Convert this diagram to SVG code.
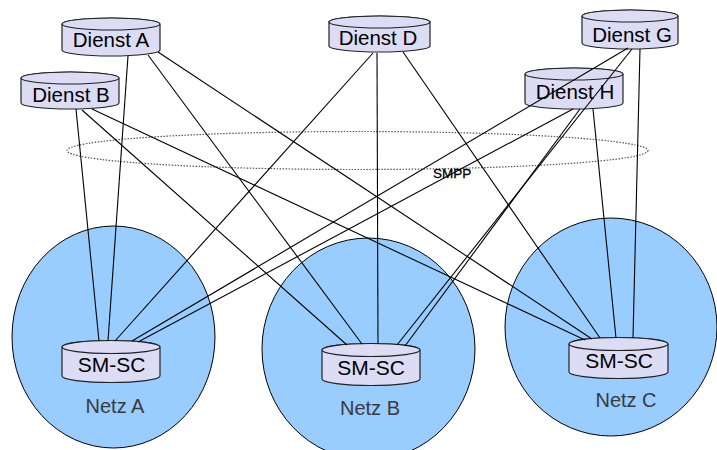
<svg xmlns="http://www.w3.org/2000/svg" width="717" height="450" viewBox="0 0 717 450">
  <style>
    .net { fill: #99CCFF; stroke: #000; stroke-width: 1; }
    .cyl { fill: #DCDCF5; stroke: #222; stroke-width: 1.2; }
    .lbl { font-family: "Liberation Sans", Arial, sans-serif; font-size: 20.5px; fill: #000; text-anchor: middle; }
    .sm { font-family: "Liberation Sans", Arial, sans-serif; font-size: 21px; fill: #000; text-anchor: middle; }
    .netlbl { font-family: "Liberation Sans", Arial, sans-serif; font-size: 20px; fill: #3a3a3a; text-anchor: middle; }
    .smpp { font-family: "Liberation Sans", Arial, sans-serif; font-size: 13.5px; fill: #000; stroke: #000; stroke-width: 0.3; }
    .ring { fill: none; stroke: #555; stroke-width: 1.2; stroke-dasharray: 1.5 1.5; }
    .conn line { stroke: #000; stroke-width: 1.1; }
  </style>

  <!-- networks -->
  <g id="netz-a">
    <ellipse class="net" cx="113.5" cy="337" rx="101.5" ry="111"/>
    <text class="netlbl" x="115" y="413">Netz A</text>
  </g>
  <g id="netz-b">
    <ellipse class="net" cx="368.5" cy="349" rx="106.5" ry="111"/>
    <text class="netlbl" x="370" y="415">Netz B</text>
  </g>
  <g id="netz-c">
    <ellipse class="net" cx="611" cy="327" rx="106" ry="109"/>
    <text class="netlbl" x="626" y="407">Netz C</text>
  </g>

  <!-- SMPP ring -->
  <g id="smpp">
    <ellipse class="ring" cx="357.5" cy="150.5" rx="290.5" ry="19"/>
    <text class="smpp" x="433" y="178">SMPP</text>
  </g>

  <!-- services -->
  <g id="dienst-a">
    <path class="cyl" d="M62,24 V50 A49,6 0 0 0 160,50 V24 A49,6 0 0 0 62,24 Z"/>
    <ellipse class="cyl" cx="111" cy="24" rx="49" ry="6"/>
    <text class="lbl" x="111" y="47">Dienst A</text>
  </g>
  <g id="dienst-b">
    <path class="cyl" d="M21,78 V103 A49,6 0 0 0 119,103 V78 A49,6 0 0 0 21,78 Z"/>
    <ellipse class="cyl" cx="70" cy="78" rx="49" ry="6"/>
    <text class="lbl" x="71" y="102">Dienst B</text>
  </g>
  <g id="dienst-d">
    <path class="cyl" d="M329,22 V46 A50.5,6 0 0 0 430,46 V22 A50.5,6 0 0 0 329,22 Z"/>
    <ellipse class="cyl" cx="379.5" cy="22" rx="50.5" ry="6"/>
    <text class="lbl" x="378" y="45">Dienst D</text>
  </g>
  <g id="dienst-g">
    <path class="cyl" d="M582,16 V43 A48,6 0 0 0 678,43 V16 A48,6 0 0 0 582,16 Z"/>
    <ellipse class="cyl" cx="630" cy="16" rx="48" ry="6"/>
    <text class="lbl" x="632" y="42">Dienst G</text>
  </g>
  <g id="dienst-h">
    <path class="cyl" d="M525,74 V103 A49,6 0 0 0 623,103 V74 A49,6 0 0 0 525,74 Z"/>
    <ellipse class="cyl" cx="574" cy="74" rx="49" ry="6"/>
    <text class="lbl" x="575" y="99">Dienst H</text>
  </g>

  <!-- message centres -->
  <g id="smsc-a">
    <path class="cyl" d="M62,347 V376 A49,6.5 0 0 0 160,376 V347 A49,6.5 0 0 0 62,347 Z"/>
    <ellipse class="cyl" cx="111" cy="347" rx="49" ry="6.5"/>
    <text class="sm" x="111.5" y="372">SM-SC</text>
  </g>
  <g id="smsc-b">
    <path class="cyl" d="M322,350 V379 A49,6.5 0 0 0 420,379 V350 A49,6.5 0 0 0 322,350 Z"/>
    <ellipse class="cyl" cx="371" cy="350" rx="49" ry="6.5"/>
    <text class="sm" x="371" y="375">SM-SC</text>
  </g>
  <g id="smsc-c">
    <path class="cyl" d="M569,344 V372 A49.5,6.5 0 0 0 668,372 V344 A49.5,6.5 0 0 0 569,344 Z"/>
    <ellipse class="cyl" cx="618.5" cy="344" rx="49.5" ry="6.5"/>
    <text class="sm" x="619" y="368">SM-SC</text>
  </g>

  <!-- SMPP links -->
  <g id="connectors" class="conn">
    <line x1="128" y1="56" x2="108" y2="341"/>
    <line x1="148" y1="55" x2="362" y2="344"/>
    <line x1="158" y1="52" x2="592" y2="339"/>
    <line x1="76" y1="109" x2="99" y2="341"/>
    <line x1="82" y1="110" x2="347" y2="345"/>
    <line x1="92" y1="109" x2="585" y2="340"/>
    <line x1="373" y1="53" x2="115" y2="341"/>
    <line x1="377" y1="53" x2="378" y2="344"/>
    <line x1="403" y1="52" x2="600" y2="338"/>
    <line x1="628" y1="48" x2="132" y2="341"/>
    <line x1="632" y1="49" x2="397" y2="345"/>
    <line x1="640" y1="49" x2="633" y2="338"/>
    <line x1="573" y1="109" x2="138" y2="342"/>
    <line x1="580" y1="109" x2="405" y2="346"/>
    <line x1="593" y1="109" x2="616" y2="338"/>
  </g>
</svg>
